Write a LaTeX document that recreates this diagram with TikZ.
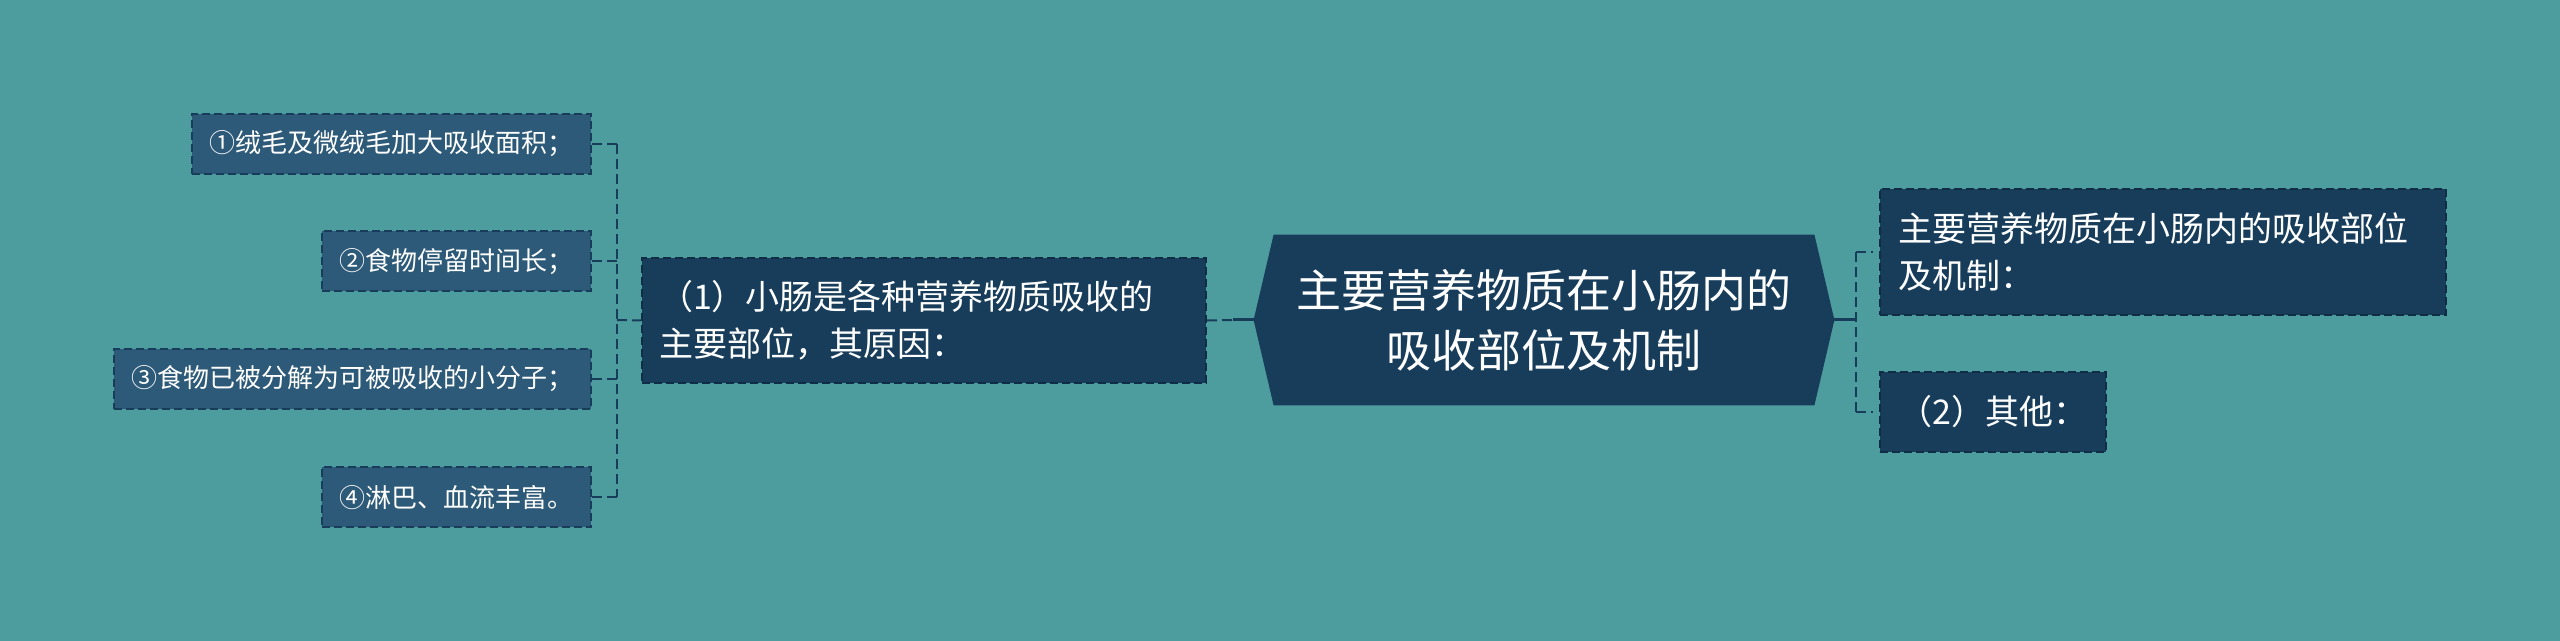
\documentclass[tikz,border=0pt]{standalone}
\usepackage{fontspec}
\setmainfont{Noto Sans CJK SC}
\usetikzlibrary{backgrounds}
\definecolor{bgteal}{RGB}{78,157,158}
\definecolor{navy}{RGB}{23,61,91}
\definecolor{leafblue}{RGB}{45,90,120}
\definecolor{edge}{RGB}{16,45,70}

\begin{document}
\begin{tikzpicture}[x=0.5pt, y=-0.5pt,
  link/.style={draw=navy, line width=1pt, dash pattern=on 5pt off 2.5pt},
  stub/.style={draw=navy, line width=1.5pt},
  mainbox/.style={fill=navy, draw=edge, line width=1pt, dash pattern=on 4pt off 2pt, text=white,
    inner ysep=0pt, font=\fontsize{17pt}{23.5pt}\selectfont},
  leaf/.style={fill=leafblue, draw=navy, line width=1pt, dash pattern=on 4pt off 2pt, text=white,
    anchor=east, minimum height=30pt, inner xsep=8.75pt, inner ysep=0pt, font=\fontsize{13pt}{16pt}\selectfont}]

% background
\begin{scope}[on background layer]
\fill[bgteal] (0,0) rectangle (2560,641);
\end{scope}
\useasboundingbox (0,0) rectangle (2560,641);

% centre topic
\node[text=white, font=\fontsize{22.5pt}{30pt}\selectfont, align=center,
      minimum width=290pt, minimum height=85pt, inner sep=0pt] (root) at (1544,320) {主要营养物质在小肠内的\\吸收部位及机制};
\begin{scope}[on background layer]
\fill[navy] (root.west) -- ([xshift=10pt]root.north west) -- ([xshift=-10pt]root.north east)
            -- (root.east) -- ([xshift=-10pt]root.south east) -- ([xshift=10pt]root.south west) -- cycle;
\end{scope}

% left branch
\node[mainbox, text width=265pt, inner xsep=8.5pt, minimum height=62.5pt, align=left] (why) at (924,320.5)
     {（1）小肠是各种营养物质吸收的\\主要部位，其原因：};

\node[leaf] (r1) at (592,144) {①绒毛及微绒毛加大吸收面积；};
\node[leaf] (r2) at (592,261.5) {②食物停留时间长；};
\node[leaf] (r3) at (592,379) {③食物已被分解为可被吸收的小分子；};
\node[leaf] (r4) at (592,497.5) {④淋巴、血流丰富。};

\coordinate (lj) at (617,320);
\draw[link] (r1.east -| lj) -- (r4.east -| lj);
\foreach \n in {r1,r2,r3,r4}
  \draw[link] (\n.east) -- (\n.east -| lj);
\draw[link] (lj) -- (why.west);

\coordinate (ls) at (1233,320);
\draw[link] (why.east) -- (ls);
\draw[stub] (ls) -- (root.west);

% right branch
\node[mainbox, text width=265pt, inner xsep=9pt, minimum height=63pt, align=left] (part) at (2163,252)
     {主要营养物质在小肠内的吸收部位\\及机制：};
\node[mainbox, minimum width=113pt, minimum height=40pt] (other) at (1993,412) {（2）其他：};

\coordinate (rj) at (1856,320);
\draw[stub] (root.east) -- (rj);
\draw[link] (rj |- part.west) -- (rj |- other.west);
\draw[link, shorten >=3pt] (rj |- part.west) -- (part.west);
\draw[link, shorten >=3pt] (rj |- other.west) -- (other.west);

\end{tikzpicture}
\end{document}
